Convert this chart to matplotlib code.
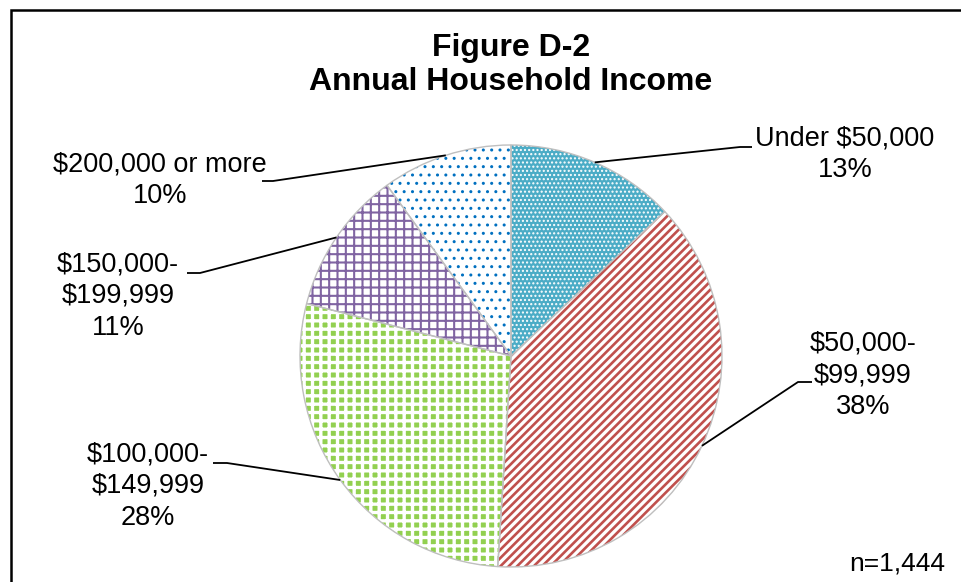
import matplotlib
matplotlib.use("Agg")
import matplotlib.pyplot as plt
import numpy as np
from matplotlib.patches import Rectangle

plt.rcParams['font.family'] = ['Liberation Sans', 'DejaVu Sans']

# ---- data ----
categories = ["Under $50,000", "$50,000-\n$99,999", "$100,000-\n$149,999",
              "$150,000-\n$199,999", "$200,000 or more"]
percents = [13, 38, 28, 11, 10]
title_lines = ["Figure D-2", "Annual Household Income"]
n_note = "n=1,444"

# ---- styles ----
face_colors = ['#4BACC6', 'white', '#92D050', 'white', 'white']
hatch_colors = ['white', '#C0504D', 'white', '#8064A2', '#0070C0']
hatches = ['....', '////', '++', '++', '..']
hatch_lws = [1.0, 1.9, 2.4, 1.5, 1.0]

W, H = 961, 582
fig = plt.figure(figsize=(W / 100, H / 100), dpi=100)
ax = fig.add_axes([0, 0, 1, 1])

cx, cy, r = 511, H - 356, 211

wedges, _ = ax.pie(percents, center=(cx, cy), radius=r, startangle=90,
                   counterclock=False, frame=True)
for w, fc, hc, hp, hl in zip(wedges, face_colors, hatch_colors, hatches, hatch_lws):
    w.set_facecolor(fc)
    w.set_edgecolor(hc)
    w.set_hatch(hp)
    w.set_linewidth(0)
    try:
        w.set_hatch_linewidth(hl)
    except Exception:
        pass

outline, _ = ax.pie(percents, center=(cx, cy), radius=r, startangle=90,
                    counterclock=False, frame=True,
                    wedgeprops=dict(fill=False, edgecolor='#BFBFBF', linewidth=1.0))

# label layout (pixel coords, y from top): text center, elbow, line end near text
label_xy = [(845, 154), (863, 375), (148, 486), (118, 296), (160, 180)]
elbow_xy = [(740, 147), (798, 382), (227, 463), (200, 273), (273, 181)]
end_xy = [(752, 147), (812, 382), (213, 463), (187, 273), (262, 181)]

total = float(sum(percents))
cum = 0.0
for i, (cat, p) in enumerate(zip(categories, percents)):
    mid = 90 - (cum + p / 2.0) / total * 360.0
    cum += p
    px = cx + r * np.cos(np.radians(mid))
    py = cy + r * np.sin(np.radians(mid))
    ex, ey = elbow_xy[i]
    tx, ty = end_xy[i]
    ax.plot([px, ex, tx], [py, H - ey, H - ty], color='black', lw=1.3,
            solid_capstyle='butt', zorder=5)
    lx, ly = label_xy[i]
    ax.text(lx, H - ly, f"{cat}\n{p}%", ha='center', va='center',
            multialignment='center', fontsize=19.5, linespacing=1.28,
            color='black')

ax.text(511, H - 65, "\n".join(title_lines), ha='center', va='center',
        fontsize=23, fontweight='bold', linespacing=1.2)
ax.text(945, H - 563, n_note, ha='right', va='center', fontsize=19)

ax.add_patch(Rectangle((11, -20), W + 40, H - 10 + 20, fill=False,
                       edgecolor='black', linewidth=1.8, zorder=6))

ax.set_xlim(0, W)
ax.set_ylim(0, H)
ax.set_aspect('auto')
ax.set_axis_off()

fig.savefig("out.png", dpi=100, facecolor='white')
